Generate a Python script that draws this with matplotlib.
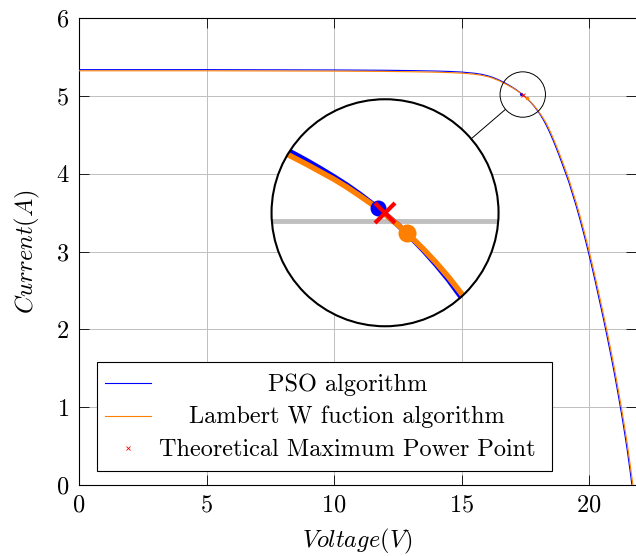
import matplotlib
matplotlib.use('Agg')
import matplotlib.pyplot as plt
import numpy as np
from matplotlib.patches import Circle, Ellipse, Rectangle
from matplotlib.lines import Line2D

plt.rcParams['font.family'] = 'serif'
plt.rcParams['font.serif'] = ['cmr10']
plt.rcParams['mathtext.fontset'] = 'cm'
plt.rcParams['axes.formatter.use_mathtext'] = True
plt.rcParams['font.size'] = 17.5

# I-V curves (denser around the knee, which is magnified)
pso_voltage = [0, 5, 10, 12, 13, 14, 14.5, 15, 15.5, 15.8,
               16.0, 16.1, 16.2, 16.3, 16.4, 16.5, 16.6, 16.7, 16.8, 16.9,
               17.0, 17.1, 17.2, 17.3, 17.4, 17.5, 17.6, 17.7, 17.8, 17.9,
               18.0, 18.1, 18.2, 18.3, 18.4, 18.5, 18.6, 18.7, 18.8, 18.9,
               19.0, 19.2, 19.35, 19.5, 19.65, 19.8, 19.95, 20.1, 20.25, 20.4,
               20.55, 20.7, 20.85, 21.0, 21.15, 21.3, 21.4, 21.5, 21.6, 21.68]
pso_current = [5.34, 5.34, 5.336, 5.332, 5.328, 5.322, 5.317, 5.309, 5.294, 5.279,
               5.263, 5.254, 5.243, 5.230, 5.217, 5.202, 5.186, 5.169, 5.151, 5.132,
               5.112, 5.091, 5.068, 5.043, 5.017, 4.989, 4.958, 4.924, 4.887, 4.847,
               4.802, 4.753, 4.699, 4.639, 4.572, 4.500, 4.423, 4.342, 4.258, 4.170,
               4.080, 3.900, 3.740, 3.580, 3.405, 3.220, 3.025, 2.820, 2.605, 2.380,
               2.155, 1.920, 1.675, 1.420, 1.145, 0.860, 0.655, 0.440, 0.200, 0.0]
lambert_voltage = [0, 5, 10, 12, 13, 14, 14.5, 15, 15.5, 15.8,
                   16.0, 16.1, 16.2, 16.3, 16.4, 16.5, 16.6, 16.7, 16.8, 16.9,
                   17.0, 17.1, 17.2, 17.3, 17.4, 17.5, 17.6, 17.7, 17.8, 17.9,
                   18.0, 18.1, 18.2, 18.3, 18.4, 18.5, 18.6, 18.7, 18.8, 18.9,
                   19.0, 19.2, 19.35, 19.5, 19.65, 19.8, 19.95, 20.1, 20.25, 20.4,
                   20.55, 20.7, 20.85, 21.0, 21.15, 21.3, 21.4, 21.5, 21.6, 21.72]
lambert_current = [5.325, 5.325, 5.321, 5.317, 5.313, 5.307, 5.302, 5.295, 5.281, 5.266,
                   5.251, 5.243, 5.232, 5.219, 5.207, 5.192, 5.176, 5.159, 5.142, 5.124,
                   5.106, 5.086, 5.064, 5.041, 5.016, 4.989, 4.959, 4.927, 4.892, 4.854,
                   4.812, 4.766, 4.716, 4.664, 4.599, 4.528, 4.453, 4.374, 4.292, 4.206,
                   4.120, 3.940, 3.782, 3.625, 3.452, 3.270, 3.078, 2.875, 2.662, 2.440,
                   2.215, 1.985, 1.742, 1.490, 1.217, 0.935, 0.733, 0.525, 0.290, 0.0]

# maximum power points
pso_mpp = (17.347, 5.031)
lambert_mpp = (17.575, 4.969)
theory_mpp = (17.40, 5.02)

labels = ['PSO algorithm', 'Lambert W fuction algorithm', 'Theoretical Maximum Power Point']
x_ticks = [0, 5, 10, 15, 20]
y_ticks = [0, 1, 2, 3, 4, 5, 6]

BLUE = '#0000ff'
ORANGE = '#ff8000'
RED = '#ff0000'
GRID = '#bfbfbf'

W, H = 636, 556
fig = plt.figure(figsize=(W / 100, H / 100), dpi=100)
ax = fig.add_axes([79 / W, 71 / H, 557 / W, 466.7 / H])
ax.set_xlim(0, 21.84)
ax.set_ylim(0, 6)
ax.set_xticks(x_ticks)
ax.set_yticks(y_ticks)
ax.set_axisbelow(True)
ax.grid(True, color=GRID, lw=0.7)
ax.tick_params(direction='in', length=7, width=0.6, top=True, right=True, pad=7)
ax.spines['right'].set_visible(False)
for s in ['left', 'bottom', 'top']:
    ax.spines[s].set_linewidth(0.8)

ax.set_xlabel('$Voltage(V)$', labelpad=7)
ax.set_ylabel('$Current(A)$', labelpad=10)


def draw_curves(a, scale):
    a.plot(pso_voltage, pso_current, color=BLUE, lw=0.8 * scale, zorder=3)
    a.plot(lambert_voltage, lambert_current, color=ORANGE, lw=0.8 * scale, zorder=3)
    a.plot(*pso_mpp, 'o', color=BLUE, ms=2.3 * scale, mew=0, zorder=4)
    a.plot(*lambert_mpp, 'o', color=ORANGE, ms=2.6 * scale, mew=0, zorder=4)
    a.plot(*theory_mpp, 'x', color=RED, ms=2.9 * scale, mew=0.6 * scale, zorder=5)


draw_curves(ax, 1)

# magnifying lens
lens_center = (12.0, 3.5)
spot_r = 22.7  # px
mag = 5
px_v = ax.transData.transform((1, 0))[0] - ax.transData.transform((0, 0))[0]
px_a = ax.transData.transform((0, 1))[1] - ax.transData.transform((0, 0))[1]
cx, cy = ax.transData.transform(lens_center)
zx, zy = ax.transData.transform(theory_mpp)
R = spot_r * mag

ax.add_patch(Ellipse(theory_mpp, 2 * spot_r / px_v, 2 * spot_r / px_a, fill=False,
                     ec='black', lw=0.7, zorder=6))
d = np.array([zx - cx, zy - cy])
d = d / np.hypot(*d)
p0 = ax.transData.inverted().transform(np.array([cx, cy]) + R * d)
p1 = ax.transData.inverted().transform(np.array([zx, zy]) - spot_r * d)
ax.plot([p0[0], p1[0]], [p0[1], p1[1]], color='black', lw=0.7, zorder=6)

ins = fig.add_axes([(cx - R) / W, (cy - R) / H, 2 * R / W, 2 * R / H])
ins.set_xlim(theory_mpp[0] - R / (mag * px_v), theory_mpp[0] + R / (mag * px_v))
ins.set_ylim(theory_mpp[1] - R / (mag * px_a), theory_mpp[1] + R / (mag * px_a))
ins.axis('off')
ins.add_patch(Circle((0.5, 0.5), 0.5, transform=ins.transAxes, fc='white', ec='none', zorder=0))
for yt in y_ticks:
    ins.axhline(yt, color=GRID, lw=0.7 * mag, zorder=1)
draw_curves(ins, mag)
clip = Circle((0.5, 0.5), 0.5, transform=ins.transAxes)
for art in ins.lines:
    art.set_clip_path(clip)
ins.add_patch(Circle((0.5, 0.5), 0.5, transform=ins.transAxes, fill=False, ec='black',
                     lw=1.5, zorder=10, clip_on=False))


# legend with centred labels
def axf(px, py):
    return ((px - 79) / 557, (485 - py) / 466.7)


x0, y0 = axf(96.7, 470.7)
x1, y1 = axf(552.3, 361.7)
ax.add_patch(Rectangle((x0, y0), x1 - x0, y1 - y0, transform=ax.transAxes, fc='white',
                       ec='black', lw=0.8, zorder=10))
rows = [383, 415.5, 448]
for k, (row, lab) in enumerate(zip(rows, labels)):
    hx0, hy = axf(105, row)
    hx1, _ = axf(150.7, row)
    if k < 2:
        ax.add_line(Line2D([hx0, hx1], [hy, hy], color=[BLUE, ORANGE][k], lw=0.8,
                           transform=ax.transAxes, zorder=11))
    else:
        ax.add_line(Line2D([(hx0 + hx1) / 2], [hy], marker='x', ls='none', color=RED, ms=2.9,
                           mew=0.6, transform=ax.transAxes, zorder=11))
    tx, ty = axf(347.3, row + 8)
    ax.text(tx, ty, lab, transform=ax.transAxes, ha='center', va='baseline', zorder=11)

fig.savefig('out.png', dpi=100)
